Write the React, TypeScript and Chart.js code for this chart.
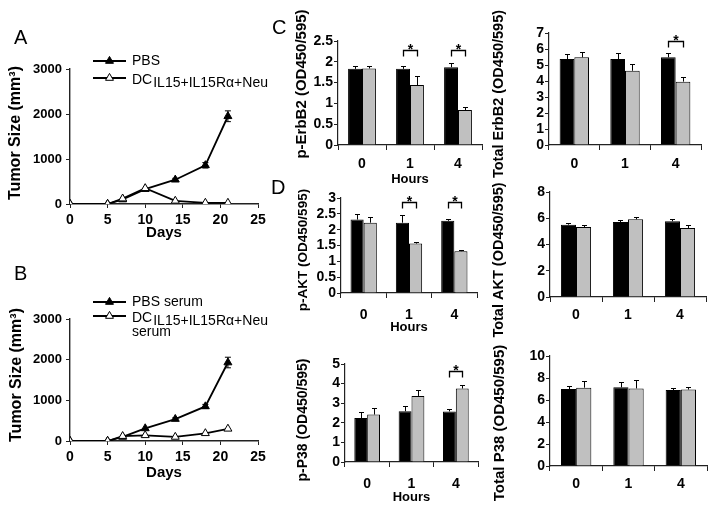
import React, { useEffect, useRef } from 'react';
import { Chart, registerables } from 'chart.js';

Chart.register(...registerables);

const FONT = '"Liberation Sans", Arial, Helvetica, sans-serif';

// ---------- Panels A & B: tumor growth ----------
const DAYS = [0, 5, 7, 10, 14, 18, 21];
const A_PBS = [0, 0, 100, 330, 540, 860, 1950];
const A_PBS_ERR = [0, 0, 0, 0, 30, 60, 120];
const A_DC = [0, 0, 120, 350, 70, 25, 25];
const B_PBS = [0, 0, 100, 310, 540, 850, 1930];
const B_PBS_ERR = [0, 0, 0, 0, 30, 50, 130];
const B_DC = [0, 0, 120, 140, 100, 190, 300];

// ---------- Panels C & D: ELISA ----------
const HOURS = ['0', '1', '4'];

const PERBB2_CTRL = [1.83, 1.83, 1.87];
const PERBB2_CTRL_ERR = [0.07, 0.07, 0.09];
const PERBB2_DC = [1.84, 1.44, 0.84];
const PERBB2_DC_ERR = [0.05, 0.22, 0.07];
const PERBB2_SIG = [1, 2];

const TERBB2_CTRL = [5.37, 5.37, 5.48];
const TERBB2_CTRL_ERR = [0.3, 0.4, 0.3];
const TERBB2_DC = [5.48, 4.64, 3.96];
const TERBB2_DC_ERR = [0.35, 0.45, 0.3];
const TERBB2_SIG = [2];

const PAKT_CTRL = [2.32, 2.22, 2.28];
const PAKT_CTRL_ERR = [0.16, 0.24, 0.07];
const PAKT_DC = [2.22, 1.56, 1.32];
const PAKT_DC_ERR = [0.18, 0.04, 0.04];
const PAKT_SIG = [1, 2];

const TAKT_CTRL = [5.51, 5.71, 5.77];
const TAKT_CTRL_ERR = [0.15, 0.16, 0.15];
const TAKT_DC = [5.33, 5.92, 5.26];
const TAKT_DC_ERR = [0.18, 0.2, 0.25];
const TAKT_SIG: number[] = [];

const PP38_CTRL = [2.24, 2.59, 2.58];
const PP38_CTRL_ERR = [0.3, 0.29, 0.11];
const PP38_DC = [2.42, 3.37, 3.75];
const PP38_DC_ERR = [0.36, 0.29, 0.18];
const PP38_SIG = [2];

const TP38_CTRL = [7.0, 7.15, 6.9];
const TP38_CTRL_ERR = [0.25, 0.45, 0.2];
const TP38_DC = [7.12, 7.05, 6.95];
const TP38_DC_ERR = [0.65, 0.75, 0.2];
const TP38_SIG: number[] = [];

const AXIS = '#222';

type Area = { left: number; top: number; right: number; bottom: number };

function drawYTitle(ctx: CanvasRenderingContext2D, text: string, x: number, y: number, size: number) {
  ctx.save();
  ctx.translate(x, y);
  ctx.rotate(-Math.PI / 2);
  ctx.font = `bold ${size}px ${FONT}`;
  ctx.fillStyle = '#000';
  ctx.textAlign = 'center';
  ctx.textBaseline = 'middle';
  ctx.fillText(text, 0, 0);
  ctx.restore();
}

function drawTri(ctx: CanvasRenderingContext2D, x: number, y: number, r: number, fill: string) {
  ctx.beginPath();
  for (let k = 0; k < 3; k++) {
    const a = (k * 2 * Math.PI) / 3;
    const px = x + Math.sin(a) * r;
    const py = y - Math.cos(a) * r;
    if (k === 0) ctx.moveTo(px, py);
    else ctx.lineTo(px, py);
  }
  ctx.closePath();
  ctx.fillStyle = fill;
  ctx.fill();
  ctx.strokeStyle = '#000';
  ctx.lineWidth = 1;
  ctx.stroke();
}

type LinePanel = {
  w: number; h: number; area: Area;
  pbs: number[]; pbsErr: number[]; dc: number[];
  daysPad: number;
  title: { x: number; y: number };
  legend: { y1: number; y2: number; pbsLabel: string; extra?: { text: string; y: number } };
};

function lineConfig(p: LinePanel): any {
  const tick = { family: FONT, size: 14, weight: 'bold' as const };
  const deco = {
    id: 'lineDeco',
    afterDatasetsDraw(chart: any) {
      const ctx = chart.ctx as CanvasRenderingContext2D;
      const xs = chart.scales.x, ys = chart.scales.y;
      ctx.save();
      ctx.strokeStyle = '#000';
      ctx.lineWidth = 1;
      p.pbs.forEach((v, i) => {
        const e = p.pbsErr[i];
        if (!e) return;
        const x = xs.getPixelForValue(DAYS[i]);
        const yt = ys.getPixelForValue(v + e), yb = ys.getPixelForValue(v - e);
        ctx.beginPath();
        ctx.moveTo(x, yt); ctx.lineTo(x, yb);
        ctx.moveTo(x - 3, yt); ctx.lineTo(x + 3, yt);
        ctx.moveTo(x - 3, yb); ctx.lineTo(x + 3, yb);
        ctx.stroke();
      });
      ctx.restore();
    },
    afterDraw(chart: any) {
      const ctx = chart.ctx as CanvasRenderingContext2D;
      drawYTitle(ctx, 'Tumor Size (mm³)', p.title.x, p.title.y, 16);
      // legend
      ctx.save();
      const lx1 = 93, lx2 = 126, tx = 132;
      const rows: [number, string][] = [[p.legend.y1, '#000'], [p.legend.y2, '#fff']];
      rows.forEach(([y, fill]) => {
        ctx.strokeStyle = '#000';
        ctx.lineWidth = 1.8;
        ctx.beginPath(); ctx.moveTo(lx1, y); ctx.lineTo(lx2, y); ctx.stroke();
        drawTri(ctx, (lx1 + lx2) / 2, y, 4.6, fill);
      });
      ctx.fillStyle = '#000';
      ctx.textBaseline = 'middle';
      ctx.textAlign = 'left';
      ctx.font = `14px ${FONT}`;
      ctx.fillText(p.legend.pbsLabel, tx, p.legend.y1);
      ctx.fillText('DC', tx, p.legend.y2 + 2);
      const dw = ctx.measureText('DC').width;
      ctx.fillText('IL15+IL15Rα+Neu', tx + dw + 1, p.legend.y2 + 5);
      if (p.legend.extra) ctx.fillText(p.legend.extra.text, tx, p.legend.extra.y);
      ctx.restore();
    },
  };
  return {
    type: 'line',
    data: {
      datasets: [
        {
          data: DAYS.map((d, i) => ({ x: d, y: p.dc[i] })),
          borderColor: '#000', borderWidth: 1.8, tension: 0,
          pointStyle: 'triangle', pointRadius: 4.6, pointBorderWidth: 1,
          pointBackgroundColor: '#fff', pointBorderColor: '#000', order: 0,
        },
        {
          data: DAYS.map((d, i) => ({ x: d, y: p.pbs[i] })),
          borderColor: '#000', borderWidth: 1.8, tension: 0,
          pointStyle: 'triangle', pointRadius: 4.6, pointBorderWidth: 1,
          pointBackgroundColor: '#000', pointBorderColor: '#000', order: 1,
        },
      ],
    },
    options: {
      responsive: false,
      animation: false,
      layout: { padding: { left: 0, top: p.area.top, right: p.w - p.area.right, bottom: 0 } },
      plugins: { legend: { display: false }, tooltip: { enabled: false } },
      scales: {
        x: {
          type: 'linear', min: 0, max: 25,
          ticks: { stepSize: 5, autoSkip: false, font: tick, color: '#000', padding: 4, callback: (v: any) => String(v) },
          grid: { drawOnChartArea: false, tickLength: 4, color: AXIS },
          border: { color: AXIS, width: 1.4 },
          title: { display: true, text: 'Days', color: '#000', font: { family: FONT, size: 15, weight: 'bold' }, padding: { top: 0, bottom: p.daysPad } },
          afterFit: (s: any) => { s.height = p.h - p.area.bottom; },
        },
        y: {
          min: 0, max: 3000,
          ticks: { stepSize: 1000, autoSkip: false, font: { family: FONT, size: 13, weight: 'bold' }, color: '#000', padding: 4, callback: (v: any) => String(v) },
          grid: { drawOnChartArea: false, tickLength: 4, color: AXIS },
          border: { color: AXIS, width: 1.4 },
          afterFit: (s: any) => { s.width = p.area.left; },
        },
      },
    },
    plugins: [deco],
  };
}

type BarPanel = {
  w: number; h: number; area: Area;
  ctrl: number[]; ctrlErr: number[]; dc: number[]; dcErr: number[];
  sig: number[]; sigLevel: number;
  max: number; step: number;
  xPad: number; hours: boolean; hoursPad: number;
  title: { text: string; x: number; y: number; size: number };
};

function barConfig(p: BarPanel): any {
  const deco = {
    id: 'barDeco',
    afterDatasetsDraw(chart: any) {
      const ctx = chart.ctx as CanvasRenderingContext2D;
      const ys = chart.scales.y;
      ctx.save();
      ctx.strokeStyle = '#000';
      ctx.lineWidth = 1;
      const sets: [number[], number[]][] = [[p.ctrl, p.ctrlErr], [p.dc, p.dcErr]];
      sets.forEach(([vals, errs], di) => {
        const meta = chart.getDatasetMeta(di);
        vals.forEach((v, j) => {
          const x = Math.round(meta.data[j].x) + 0.5;
          const y0 = ys.getPixelForValue(v);
          const y1 = Math.round(ys.getPixelForValue(v + errs[j])) + 0.5;
          ctx.beginPath();
          ctx.moveTo(x, y0); ctx.lineTo(x, y1);
          ctx.moveTo(x - 2.5, y1); ctx.lineTo(x + 2.5, y1);
          ctx.stroke();
        });
      });
      p.sig.forEach((j) => {
        const x0 = Math.round(chart.getDatasetMeta(0).data[j].x) + 0.5;
        const x1 = Math.round(chart.getDatasetMeta(1).data[j].x) + 0.5;
        const yb = Math.round(ys.getPixelForValue(p.sigLevel)) + 0.5;
        ctx.lineWidth = 1.3;
        ctx.beginPath();
        ctx.moveTo(x0, yb + 6); ctx.lineTo(x0, yb); ctx.lineTo(x1, yb); ctx.lineTo(x1, yb + 6);
        ctx.stroke();
        ctx.fillStyle = '#000';
        ctx.font = `bold 14px ${FONT}`;
        ctx.textAlign = 'center';
        ctx.textBaseline = 'alphabetic';
        ctx.fillText('*', (x0 + x1) / 2, yb + 3);
      });
      ctx.restore();
    },
    afterDraw(chart: any) {
      drawYTitle(chart.ctx, p.title.text, p.title.x, p.title.y, p.title.size);
    },
  };
  return {
    type: 'bar',
    data: {
      labels: HOURS,
      datasets: [
        { data: p.ctrl, backgroundColor: '#000', borderColor: '#000', borderWidth: 1, categoryPercentage: 0.58, barPercentage: 1 },
        { data: p.dc, backgroundColor: '#c0c0c0', borderColor: '#000', borderWidth: 1, categoryPercentage: 0.58, barPercentage: 1 },
      ],
    },
    options: {
      responsive: false,
      animation: false,
      layout: { padding: { left: 0, top: p.area.top, right: p.w - p.area.right, bottom: 0 } },
      plugins: { legend: { display: false }, tooltip: { enabled: false } },
      scales: {
        x: {
          grid: { drawOnChartArea: false, drawTicks: true, tickLength: 5, color: AXIS, offset: true },
          border: { color: AXIS, width: 1.2 },
          ticks: { font: { family: FONT, size: 14, weight: 'bold' }, color: '#000', padding: p.xPad },
          title: p.hours
            ? { display: true, text: 'Hours', color: '#000', font: { family: FONT, size: 13, weight: 'bold' }, padding: { top: 0, bottom: p.hoursPad } }
            : { display: false },
          afterFit: (s: any) => { s.height = p.h - p.area.bottom; },
        },
        y: {
          min: 0, max: p.max,
          ticks: { stepSize: p.step, autoSkip: false, font: { family: FONT, size: 14, weight: 'bold' }, color: '#000', padding: 1, callback: (v: any) => String(v) },
          grid: { drawOnChartArea: false, tickLength: 4, color: AXIS },
          border: { color: AXIS, width: 1.2 },
          afterFit: (s: any) => { s.width = p.area.left; },
        },
      },
    },
    plugins: [deco],
  };
}

function ChartCanvas({ left, top, w, h, make }: { left: number; top: number; w: number; h: number; make: () => any }) {
  const ref = useRef<HTMLCanvasElement>(null);
  useEffect(() => {
    const chart = new Chart(ref.current as HTMLCanvasElement, make());
    return () => chart.destroy();
  }, []);
  return (
    <canvas
      ref={ref}
      width={w}
      height={h}
      style={{ position: 'absolute', left, top, width: w, height: h }}
    />
  );
}

const letterStyle = (left: number, top: number): React.CSSProperties => ({
  position: 'absolute', left, top, fontFamily: FONT, fontSize: 20, lineHeight: '20px', color: '#000',
});

export default function App() {
  const panelA: LinePanel = {
    w: 290, h: 242, area: { left: 70, top: 69, right: 258, bottom: 204 },
    pbs: A_PBS, pbsErr: A_PBS_ERR, dc: A_DC, daysPad: 0,
    title: { x: 16, y: 133 },
    legend: { y1: 61, y2: 78, pbsLabel: 'PBS' },
  };
  const panelB: LinePanel = {
    w: 290, h: 269, area: { left: 70, top: 79, right: 258, bottom: 201 },
    pbs: B_PBS, pbsErr: B_PBS_ERR, dc: B_DC, daysPad: 27,
    title: { x: 17, y: 135 },
    legend: { y1: 62, y2: 76, pbsLabel: 'PBS serum', extra: { text: 'serum', y: 92 } },
  };
  const pErb: BarPanel = {
    w: 220, h: 192, area: { left: 68, top: 41, right: 212, bottom: 145 },
    ctrl: PERBB2_CTRL, ctrlErr: PERBB2_CTRL_ERR, dc: PERBB2_DC, dcErr: PERBB2_DC_ERR,
    sig: PERBB2_SIG, sigLevel: 2.28, max: 2.5, step: 0.5, xPad: 6, hours: true, hoursPad: 5,
    title: { text: 'p-ErbB2 (OD450/595)', x: 32, y: 84, size: 15 },
  };
  const tErb: BarPanel = {
    w: 224, h: 185, area: { left: 59, top: 33, right: 211, bottom: 145 },
    ctrl: TERBB2_CTRL, ctrlErr: TERBB2_CTRL_ERR, dc: TERBB2_DC, dcErr: TERBB2_DC_ERR,
    sig: TERBB2_SIG, sigLevel: 6.52, max: 7, step: 1, xPad: 6, hours: false, hoursPad: 0,
    title: { text: 'Total ErbB2 (OD450/595)', x: 9, y: 94, size: 14.5 },
  };
  const pAkt: BarPanel = {
    w: 220, h: 157, area: { left: 71, top: 18, right: 207, bottom: 113 },
    ctrl: PAKT_CTRL, ctrlErr: PAKT_CTRL_ERR, dc: PAKT_DC, dcErr: PAKT_DC_ERR,
    sig: PAKT_SIG, sigLevel: 2.87, max: 3, step: 0.5, xPad: 9, hours: true, hoursPad: 2,
    title: { text: 'p-AKT (OD450/595)', x: 33, y: 70, size: 13.5 },
  };
  const tAkt: BarPanel = {
    w: 224, h: 162, area: { left: 60, top: 12, right: 216, bottom: 117 },
    ctrl: TAKT_CTRL, ctrlErr: TAKT_CTRL_ERR, dc: TAKT_DC, dcErr: TAKT_DC_ERR,
    sig: TAKT_SIG, sigLevel: 0, max: 8, step: 2, xPad: 5, hours: false, hoursPad: 0,
    title: { text: 'Total AKT (OD450/595)', x: 9, y: 80, size: 14.5 },
  };
  const pP38: BarPanel = {
    w: 220, h: 174, area: { left: 75, top: 29, right: 208, bottom: 127 },
    ctrl: PP38_CTRL, ctrlErr: PP38_CTRL_ERR, dc: PP38_DC, dcErr: PP38_DC_ERR,
    sig: PP38_SIG, sigLevel: 4.66, max: 5, step: 1, xPad: 9, hours: true, hoursPad: 4,
    title: { text: 'p-P38 (OD450/595)', x: 33, y: 85, size: 14 },
  };
  const tP38: BarPanel = {
    w: 224, h: 174, area: { left: 60, top: 21, right: 217, bottom: 131 },
    ctrl: TP38_CTRL, ctrlErr: TP38_CTRL_ERR, dc: TP38_DC, dcErr: TP38_DC_ERR,
    sig: TP38_SIG, sigLevel: 0, max: 10, step: 2, xPad: 5, hours: false, hoursPad: 0,
    title: { text: 'Total P38 (OD450/595)', x: 10, y: 88, size: 15 },
  };

  return (
    <div style={{ position: 'absolute', left: 0, top: 0, width: 714, height: 509, background: '#fff', overflow: 'hidden' }}>
      <ChartCanvas left={0} top={0} w={panelA.w} h={panelA.h} make={() => lineConfig(panelA)} />
      <ChartCanvas left={0} top={240} w={panelB.w} h={panelB.h} make={() => lineConfig(panelB)} />
      <ChartCanvas left={270} top={0} w={pErb.w} h={pErb.h} make={() => barConfig(pErb)} />
      <ChartCanvas left={490} top={0} w={tErb.w} h={tErb.h} make={() => barConfig(tErb)} />
      <ChartCanvas left={270} top={180} w={pAkt.w} h={pAkt.h} make={() => barConfig(pAkt)} />
      <ChartCanvas left={490} top={180} w={tAkt.w} h={tAkt.h} make={() => barConfig(tAkt)} />
      <ChartCanvas left={270} top={335} w={pP38.w} h={pP38.h} make={() => barConfig(pP38)} />
      <ChartCanvas left={490} top={335} w={tP38.w} h={tP38.h} make={() => barConfig(tP38)} />
      <div style={letterStyle(14, 27)}>A</div>
      <div style={letterStyle(14, 263)}>B</div>
      <div style={letterStyle(272, 17)}>C</div>
      <div style={letterStyle(271, 177)}>D</div>
    </div>
  );
}
